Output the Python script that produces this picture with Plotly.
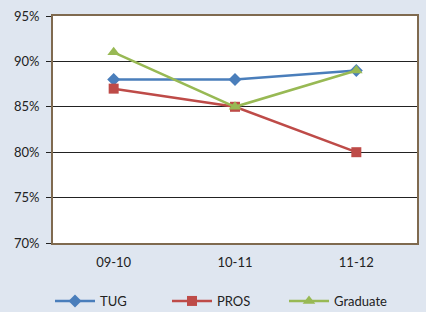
import plotly.graph_objects as go

categories = ["09-10", "10-11", "11-12"]
tug = [0.88, 0.88, 0.89]
pros = [0.87, 0.85, 0.80]
graduate = [0.91, 0.85, 0.89]
y_ticks = [0.70, 0.75, 0.80, 0.85, 0.90, 0.95]
y_tick_labels = ["70%", "75%", "80%", "85%", "90%", "95%"]

font_family = "Lato, 'DejaVu Sans', sans-serif"

fig = go.Figure()
fig.add_trace(go.Scatter(x=categories, y=tug, name="TUG", mode="lines+markers",
                         line=dict(color="#4a7ebb", width=2.5),
                         marker=dict(symbol="diamond", size=10, color="#4a7ebb")))
fig.add_trace(go.Scatter(x=categories, y=pros, name="PROS", mode="lines+markers",
                         line=dict(color="#be4b48", width=2.5),
                         marker=dict(symbol="square", size=10, color="#be4b48")))
fig.add_trace(go.Scatter(x=categories, y=graduate, name="Graduate", mode="lines+markers",
                         line=dict(color="#98b954", width=2.5),
                         marker=dict(symbol="triangle-up", size=11, color="#98b954")))

fig.update_layout(
    width=426, height=312,
    margin=dict(l=53, r=9, t=16, b=69, autoexpand=False),
    paper_bgcolor="#dfe6f0",
    plot_bgcolor="#ffffff",
    font=dict(family=font_family, size=12, color="#222222"),
    showlegend=True,
    legend=dict(orientation="h", x=50 / 426, xanchor="left", xref="container",
                y=-58 / 227, yanchor="middle", yref="paper",
                bgcolor="rgba(0,0,0,0)", font=dict(size=13, color="#222222"),
                entrywidth=62, traceorder="normal", itemwidth=40),
)
fig.update_xaxes(
    type="category", range=[-0.5, 2.5],
    showline=True, linecolor="#7f6a4f", linewidth=2, mirror=True,
    showgrid=False, ticks="", tickfont=dict(size=13), automargin=False,
    ticklabelstandoff=6,
)
fig.update_yaxes(
    range=[0.70, 0.95], tickvals=y_ticks, ticktext=y_tick_labels,
    showline=True, linecolor="#7f6a4f", linewidth=2, mirror=True,
    showgrid=True, gridcolor="#222222", gridwidth=1,
    ticks="outside", ticklen=5, tickcolor="#222222", tickfont=dict(size=13),
    zeroline=False, automargin=False, ticklabelstandoff=4,
)

fig.write_html("out.html", config={"displayModeBar": False},
               post_script="document.body.style.margin='0';")
